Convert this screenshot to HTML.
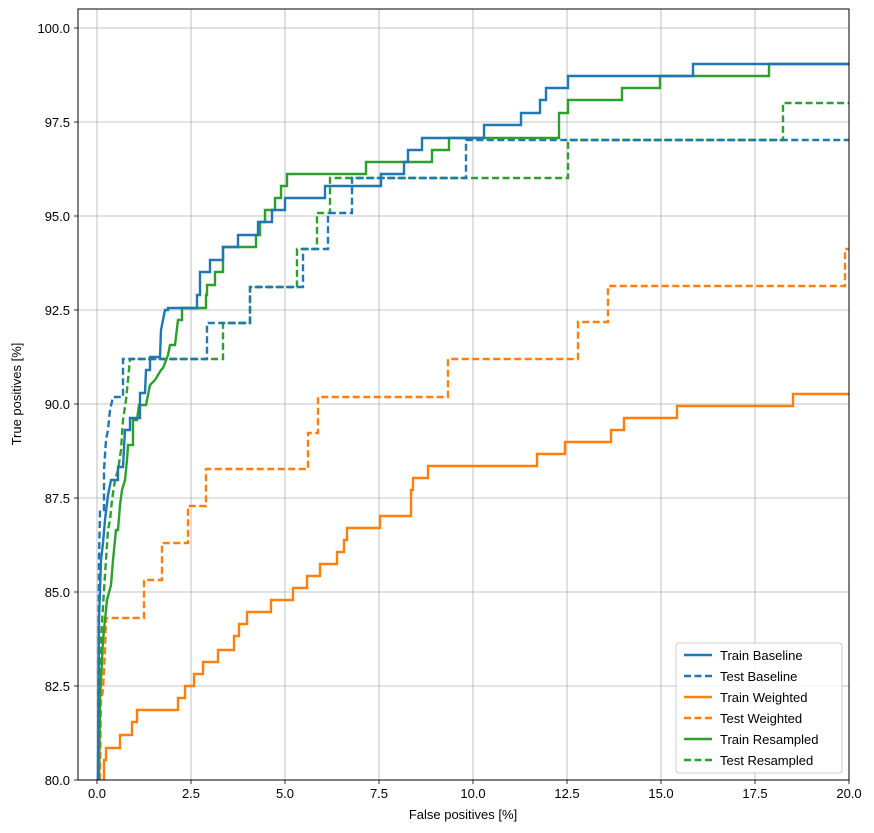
<!DOCTYPE html>
<html><head><meta charset="utf-8"><style>body{margin:0;background:#fff}svg{display:block;font-family:"Liberation Sans",sans-serif}</style></head><body>
<svg width="874" height="833" viewBox="0 0 874 833">
<rect width="874" height="833" fill="#fff"/>
<g stroke="#b0b0b0" stroke-width="0.8">
<line x1="97" y1="9" x2="97" y2="780"/><line x1="191" y1="9" x2="191" y2="780"/><line x1="285" y1="9" x2="285" y2="780"/><line x1="379" y1="9" x2="379" y2="780"/><line x1="473" y1="9" x2="473" y2="780"/><line x1="567" y1="9" x2="567" y2="780"/><line x1="661" y1="9" x2="661" y2="780"/><line x1="755" y1="9" x2="755" y2="780"/>
<line x1="78" y1="686" x2="849" y2="686"/><line x1="78" y1="592" x2="849" y2="592"/><line x1="78" y1="498" x2="849" y2="498"/><line x1="78" y1="404" x2="849" y2="404"/><line x1="78" y1="310" x2="849" y2="310"/><line x1="78" y1="216" x2="849" y2="216"/><line x1="78" y1="122" x2="849" y2="122"/><line x1="78" y1="28" x2="849" y2="28"/>
</g>
<svg x="78" y="9" width="771" height="771" viewBox="78 9 771 771" overflow="hidden">
<g fill="none" stroke-width="2.4">
<polyline stroke="#ff7f0e" stroke-dasharray="7,3.5" points="100,780 101,700 103,690 105,650 106,618 144,618 144,580 162,580 162,543 188,543 188,506 206,506 206,469 308,469 308,433 318,433 318,397 448,397 448,359 578,359 578,322 608,322 608,286 845,286 845,249 849,249"/>
<polyline stroke="#ff7f0e" points="104,780 104,760 106,760 106,748 120,748 120,735 132,735 132,722 137,722 137,710 178,710 178,698 185,698 185,686 194,686 194,674 203,674 203,662 218,662 218,650 234,650 234,636 239,636 239,624 247,624 247,612 271,612 271,600 293,600 293,588 307,588 307,576 320,576 320,564 337,564 337,552 344,552 344,540 347,540 347,528 380,528 380,516 411,516 411,490 413,490 413,478 428,478 428,466 537,466 537,454 565,454 565,442 611,442 611,430 624,430 624,418 677,418 677,406 793,406 793,394 849,394"/>
<polyline stroke="#2ca02c" stroke-dasharray="7,3.5" points="98,780 99,700 101,640 104,590 106,560 108,530 110,520 112,500 115,480 118,470 121,450 123,420 126,400 128,380 130,359 223,359 223,323 250,323 250,287 297,287 297,249 317,249 317,213 330,213 330,178 568,178 568,140 783,140 783,103 849,103"/>
<polyline stroke="#1f77b4" stroke-dasharray="7,3.5" points="98,780 99,560 100,510 104,510 104,470 106,440 108,430 110,410 113,397 123,397 123,359 207,359 207,323 250,323 250,287 303,287 303,249 328,249 328,213 352,213 352,178 466,178 466,140 849,140"/>
<polyline stroke="#2ca02c" points="99,780 100,700 103,640 107,600 111,585 113,560 116,530 118,530 120,505 122,490 125,480 127,460 128,445 133,445 133,420 137,420 139,405 146,405 150,385 155,380 161,370 163,368 168,355 170,345 175,345 178,320 182,320 182,308 206,308 206,295 207,295 207,285 215,285 215,272 223,272 223,247 256,247 256,235 260,235 260,222 265,222 265,210 275,210 275,198 281,198 281,186 287,186 287,174 366,174 366,162 432,162 432,150 449,150 449,138 559,138 559,113 568,113 568,100 622,100 622,88 660,88 660,76 769,76 769,64 849,64"/>
<polyline stroke="#1f77b4" points="98,780 99,620 101,560 103,543 105,520 108,495 111,480 118,480 118,467 123,467 125,430 130,430 130,418 140,418 140,393 145,393 146,370 150,370 150,357 160,357 161,330 163,320 165,310 168,310 168,308 197,308 197,295 200,295 200,272 210,272 210,260 223,260 223,247 238,247 238,235 258,235 258,222 272,222 272,210 285,210 285,198 325,198 325,186 381,186 381,174 404,174 404,162 408,162 408,150 422,150 422,138 484,138 484,125 521,125 521,113 540,113 540,100 546,100 546,88 568,88 568,76 693,76 693,64 849,64"/>
</g>
</svg>
<rect x="78" y="9" width="771" height="771" fill="none" stroke="#000" stroke-width="1"/>
<g stroke="#000" stroke-width="0.8">
<line x1="97" y1="780" x2="97" y2="784"/><line x1="191" y1="780" x2="191" y2="784"/><line x1="285" y1="780" x2="285" y2="784"/><line x1="379" y1="780" x2="379" y2="784"/><line x1="473" y1="780" x2="473" y2="784"/><line x1="567" y1="780" x2="567" y2="784"/><line x1="661" y1="780" x2="661" y2="784"/><line x1="755" y1="780" x2="755" y2="784"/><line x1="849" y1="780" x2="849" y2="784"/>
<line x1="74" y1="780" x2="78" y2="780"/><line x1="74" y1="686" x2="78" y2="686"/><line x1="74" y1="592" x2="78" y2="592"/><line x1="74" y1="498" x2="78" y2="498"/><line x1="74" y1="404" x2="78" y2="404"/><line x1="74" y1="310" x2="78" y2="310"/><line x1="74" y1="216" x2="78" y2="216"/><line x1="74" y1="122" x2="78" y2="122"/><line x1="74" y1="28" x2="78" y2="28"/>
</g>
<g font-size="13" fill="#000" text-anchor="middle">
<text x="97" y="798">0.0</text><text x="191" y="798">2.5</text><text x="285" y="798">5.0</text><text x="379" y="798">7.5</text><text x="473" y="798">10.0</text><text x="567" y="798">12.5</text><text x="661" y="798">15.0</text><text x="755" y="798">17.5</text><text x="849" y="798">20.0</text>
<text x="463" y="819">False positives [%]</text>
</g>
<g font-size="13" fill="#000" text-anchor="end">
<text x="70" y="785">80.0</text><text x="70" y="691">82.5</text><text x="70" y="597">85.0</text><text x="70" y="503">87.5</text><text x="70" y="409">90.0</text><text x="70" y="315">92.5</text><text x="70" y="221">95.0</text><text x="70" y="127">97.5</text><text x="70" y="33">100.0</text>
</g>
<text transform="translate(21,394) rotate(-90)" font-size="13" text-anchor="middle">True positives [%]</text>
<rect x="676" y="643" width="166" height="130" rx="3" fill="#fff" fill-opacity="0.8" stroke="#ccc"/>
<g stroke-width="2.4">
<line x1="684" y1="655" x2="712" y2="655" stroke="#1f77b4"/>
<line x1="684" y1="676" x2="712" y2="676" stroke="#1f77b4" stroke-dasharray="7,3.5"/>
<line x1="684" y1="697" x2="712" y2="697" stroke="#ff7f0e"/>
<line x1="684" y1="718" x2="712" y2="718" stroke="#ff7f0e" stroke-dasharray="7,3.5"/>
<line x1="684" y1="739" x2="712" y2="739" stroke="#2ca02c"/>
<line x1="684" y1="760" x2="712" y2="760" stroke="#2ca02c" stroke-dasharray="7,3.5"/>
</g>
<g font-size="13" fill="#000">
<text x="720" y="660">Train Baseline</text><text x="720" y="681">Test Baseline</text><text x="720" y="702">Train Weighted</text><text x="720" y="723">Test Weighted</text><text x="720" y="744">Train Resampled</text><text x="720" y="765">Test Resampled</text>
</g>
</svg>
</body></html>
